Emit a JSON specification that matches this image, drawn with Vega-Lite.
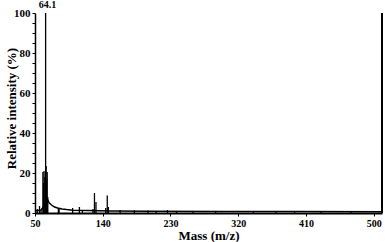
{
  "$schema": "https://vega.github.io/schema/vega-lite/v6.json",
  "width": 347,
  "height": 200,
  "autosize": {"type": "none"},
  "padding": {"left": 35, "top": 13, "right": 5, "bottom": 29},
  "background": "white",
  "config": {
    "view": {"stroke": null},
    "font": "Liberation Serif",
    "axis": {"grid": false, "domainColor": "black", "tickColor": "black", "labelColor": "black", "titleColor": "black", "labelFont": "Liberation Serif", "titleFont": "Liberation Serif", "labelFontWeight": "bold", "titleFontWeight": "bold", "labelOverlap": false}
  },
  "datasets": {
    "base": [
      {"mz": 50, "i": 1.0}, {"mz": 54, "i": 1.2}, {"mz": 58, "i": 1.5}, {"mz": 60, "i": 2.5},
      {"mz": 67, "i": 6.5}, {"mz": 69, "i": 5.0}, {"mz": 72, "i": 4.0}, {"mz": 76, "i": 3.0},
      {"mz": 80, "i": 2.5}, {"mz": 86, "i": 2.0}, {"mz": 92, "i": 1.7}, {"mz": 100, "i": 1.4},
      {"mz": 120, "i": 1.2}, {"mz": 150, "i": 1.0}, {"mz": 200, "i": 0.9}, {"mz": 300, "i": 0.8},
      {"mz": 400, "i": 0.7}, {"mz": 511, "i": 0.6}
    ],
    "peaks": [
      {"mz": 53, "i": 2}, {"mz": 56, "i": 3.5}, {"mz": 58, "i": 1.5},
      {"mz": 60.5, "i": 20.5}, {"mz": 61.3, "i": 15}, {"mz": 62, "i": 21}, {"mz": 63, "i": 18},
      {"mz": 64.1, "i": 100}, {"mz": 64.8, "i": 23.5}, {"mz": 65.5, "i": 17}, {"mz": 66.2, "i": 20.5},
      {"mz": 67, "i": 8}, {"mz": 81, "i": 2.5}, {"mz": 82, "i": 2}, {"mz": 100, "i": 2.5},
      {"mz": 109, "i": 3}, {"mz": 113, "i": 1.5}, {"mz": 127, "i": 2}, {"mz": 129, "i": 10},
      {"mz": 131, "i": 5.5}, {"mz": 144, "i": 2.5}, {"mz": 146, "i": 8.7}, {"mz": 147.5, "i": 3},
      {"mz": 163, "i": 1.5}, {"mz": 182, "i": 1.3}, {"mz": 200, "i": 1.2}, {"mz": 211, "i": 1},
      {"mz": 226, "i": 1.5}, {"mz": 238, "i": 0.8}, {"mz": 260, "i": 0.9}, {"mz": 290, "i": 0.8},
      {"mz": 340, "i": 0.8}, {"mz": 370, "i": 0.9}, {"mz": 395, "i": 0.8}, {"mz": 430, "i": 0.8},
      {"mz": 470, "i": 0.8}
    ],
    "edge": [{"mz": 511, "i": 100}],
    "label": [{"mz": 64.1, "i": 100, "t": "64.1"}]
  },
  "resolve": {"scale": {"y": "independent"}, "axis": {"y": "independent"}},
  "layer": [
    {
      "data": {"name": "peaks"},
      "mark": {"type": "rule", "color": "black", "strokeWidth": 1.3},
      "encoding": {
        "x": {"field": "mz", "type": "quantitative", "scale": {"domain": [50, 511], "nice": false, "zero": false},
              "axis": {"values": [50, 140, 230, 320, 410, 500], "title": "Mass (m/z)", "titleFontSize": 13, "labelFontSize": 10, "tickSize": 3, "labelPadding": 2, "titleY": 16, "titleBaseline": "top", "domainWidth": 2, "labelFlush": false, "labelOverlap": false}},
        "y": {"field": "i", "type": "quantitative", "scale": {"domain": [0, 100], "nice": false},
              "axis": {"orient": "left", "values": [0, 20, 40, 60, 80, 100],
                       "labelFlush": false, "labelOverlap": false, "labelBound": false,
                       "title": "Relative intensity (%)", "titleFontSize": 13, "labelFontSize": 11, "tickSize": 3, "labelPadding": 2,
                       "titleX": -20, "titleY": 95, "titleBaseline": "alphabetic", "titleAlign": "center", "titleAngle": 270, "domainWidth": 1.5}},
        "y2": {"datum": 0}
      }
    },
    {
      "data": {"name": "base"},
      "mark": {"type": "line", "color": "black", "strokeWidth": 1.5},
      "encoding": {
        "x": {"field": "mz", "type": "quantitative"},
        "y": {"field": "i", "type": "quantitative", "scale": {"domain": [0, 100], "nice": false},
              "axis": {"orient": "left", "values": [5, 10, 15, 25, 30, 35, 45, 50, 55, 65, 70, 75, 85, 90, 95], "labels": false, "title": null, "domain": false, "tickSize": 3}}
      }
    },
    {
      "data": {"name": "edge"},
      "mark": {"type": "rule", "color": "black", "strokeWidth": 2},
      "encoding": {
        "x": {"field": "mz", "type": "quantitative"},
        "y": {"field": "i", "type": "quantitative", "scale": {"domain": [0, 100], "nice": false}, "axis": null},
        "y2": {"datum": 0}
      }
    },
    {
      "data": {"name": "label"},
      "mark": {"type": "text", "font": "Liberation Serif", "fontWeight": "bold", "fontSize": 10, "dy": -8, "dx": 2, "color": "black"},
      "encoding": {
        "x": {"field": "mz", "type": "quantitative"},
        "y": {"field": "i", "type": "quantitative", "scale": {"domain": [0, 100], "nice": false}, "axis": null},
        "text": {"field": "t"}
      }
    }
  ]
}
